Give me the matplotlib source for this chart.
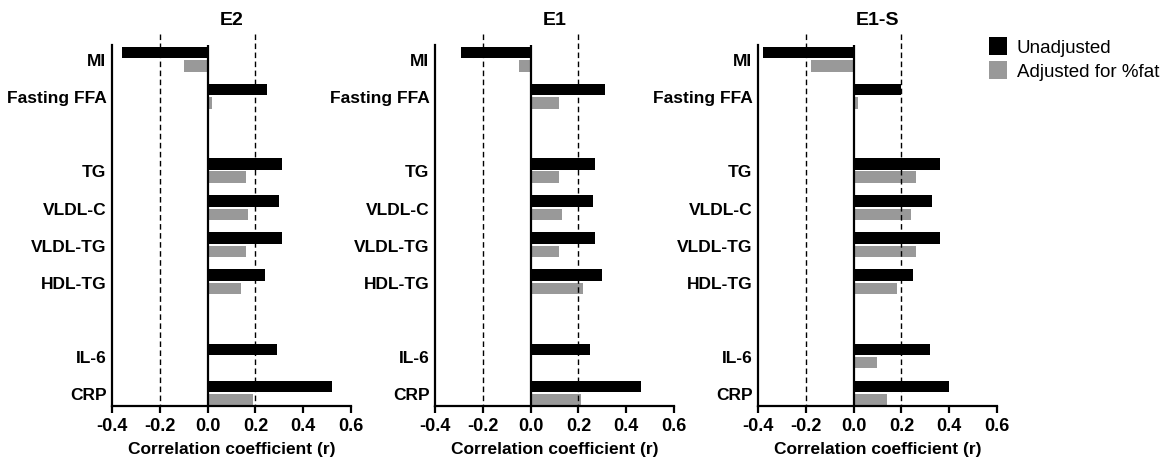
import matplotlib
matplotlib.use("Agg")
import matplotlib.pyplot as plt
import numpy as np
from matplotlib.patches import Patch

plt.rcParams["font.family"] = ["Liberation Sans", "DejaVu Sans"]

# categories, top to bottom, with gaps between groups
categories = ["MI", "Fasting FFA", "TG", "VLDL-C", "VLDL-TG", "HDL-TG", "IL-6", "CRP"]
positions = [0, 1, 3, 4, 5, 6, 8, 9]

panels = ["E2", "E1", "E1-S"]

e2_unadj = [-0.36, 0.25, 0.31, 0.30, 0.31, 0.24, 0.29, 0.52]
e2_adj = [-0.10, 0.02, 0.16, 0.17, 0.16, 0.14, 0.0, 0.19]

e1_unadj = [-0.29, 0.31, 0.27, 0.26, 0.27, 0.30, 0.25, 0.46]
e1_adj = [-0.05, 0.12, 0.12, 0.13, 0.12, 0.22, 0.003, 0.21]

e1s_unadj = [-0.38, 0.20, 0.36, 0.33, 0.36, 0.25, 0.32, 0.40]
e1s_adj = [-0.18, 0.02, 0.26, 0.24, 0.26, 0.18, 0.10, 0.14]

data = [(e2_unadj, e2_adj), (e1_unadj, e1_adj), (e1s_unadj, e1s_adj)]

xticks = [-0.4, -0.2, 0.0, 0.2, 0.4, 0.6]
xtick_labels = ["-0.4", "-0.2", "0.0", "0.2", "0.4", "0.6"]

BLACK = "#000000"
GREY = "#999999"

fig = plt.figure(figsize=(11.74, 4.64), dpi=100)

lefts = [112 / 1174, 435 / 1174, 758 / 1174]
width = 239 / 1174
bottom = 57 / 464
height = 372 / 464

y_top, y_bot = -0.68, 9.35
bar_h = 0.31
off = 0.18

pos = np.array(positions)
for k, (title, (unadj, adj)) in enumerate(zip(panels, data)):
    ax = fig.add_axes([lefts[k], bottom, width, height])
    ax.barh(pos - off, unadj, height=bar_h, color=BLACK, linewidth=0)
    ax.barh(pos + off, adj, height=bar_h, color=GREY, linewidth=0)

    # reference lines
    ax.vlines([-0.2, 0.2], y_top, y_bot, colors="black", linestyles=(0, (4, 2.5)),
              linewidth=1.0)
    ax.vlines(0, -0.38, y_bot, colors="black", linewidth=1.6)

    ax.set_xlim(-0.4, 0.6)
    ax.set_ylim(y_bot, y_top)

    for side in ["top", "right"]:
        ax.spines[side].set_visible(False)
    ax.spines["left"].set_linewidth(1.6)
    ax.spines["bottom"].set_linewidth(1.6)
    ax.spines["left"].set_bounds(-0.38, y_bot)

    ax.set_xticks(xticks)
    ax.set_xticklabels(xtick_labels, fontsize=13, fontweight="bold")
    ax.tick_params(axis="x", direction="out", length=5, width=1.6, pad=3)

    ax.set_yticks(positions)
    ax.set_yticklabels(categories, fontsize=12.5, fontweight="bold")
    ax.tick_params(axis="y", length=0, pad=4)

    ax.set_xlabel("Correlation coefficient (r)", fontsize=12.5, fontweight="bold",
                  labelpad=5)
    ax.set_title(title, fontsize=14, fontweight="bold", pad=7)

handles = [Patch(facecolor=BLACK, edgecolor="none", label="Unadjusted"),
           Patch(facecolor=GREY, edgecolor="none", label="Adjusted for %fat")]
fig.legend(handles=handles, loc="upper left", bbox_to_anchor=(981 / 1174, 1 - 30 / 464),
           frameon=False, fontsize=13.5, handlelength=1.0, handleheight=1.1,
           handletextpad=0.5, labelspacing=0.25, borderaxespad=0)

fig.savefig("out.png", dpi=100)
